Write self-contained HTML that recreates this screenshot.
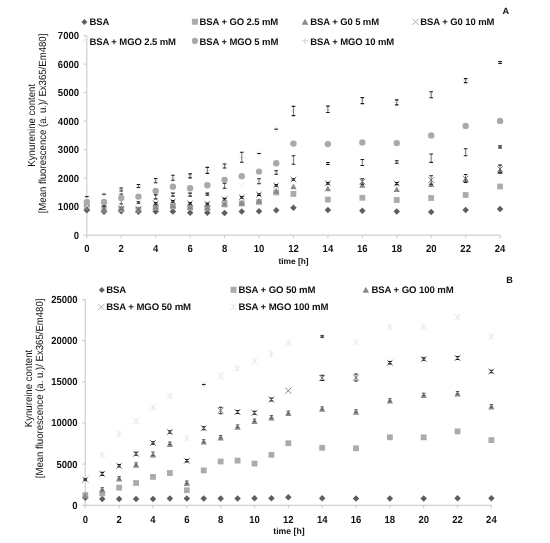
<!DOCTYPE html>
<html><head><meta charset="utf-8"><title>Kynurenine content</title>
<style>
html,body{margin:0;padding:0;background:#fff;}
body{width:550px;height:543px;overflow:hidden;}
svg{display:block;will-change:transform;}
text{font-family:"Liberation Sans", sans-serif;fill:#111;text-rendering:geometricPrecision;}
.tl{font-size:9.5px;font-weight:bold;}
.lg{font-size:9.5px;font-weight:bold;letter-spacing:-0.1px;}
.lg2{font-size:9.6px;font-weight:bold;letter-spacing:-0.1px;}
.xt{font-size:8.4px;font-weight:bold;}
.xt2{font-size:8.7px;font-weight:bold;}
.yt{font-size:9.6px;}
.pl{font-size:9.2px;font-weight:bold;}
</style></head><body>
<svg width="550" height="543" viewBox="0 0 550 543">

<rect width="550" height="543" fill="#fff"/>
<g>
<path d="M86.8 35.7L86.8 235.2L500.08 235.2" stroke="#cfcfcf" stroke-width="1.2" fill="none"/>
<text transform="translate(79 238.9) scale(1 1.08)" text-anchor="end" class="tl">0</text>
<text transform="translate(79 210.4) scale(1 1.08)" text-anchor="end" class="tl">1000</text>
<text transform="translate(79 181.9) scale(1 1.08)" text-anchor="end" class="tl">2000</text>
<text transform="translate(79 153.4) scale(1 1.08)" text-anchor="end" class="tl">3000</text>
<text transform="translate(79 124.9) scale(1 1.08)" text-anchor="end" class="tl">4000</text>
<text transform="translate(79 96.4) scale(1 1.08)" text-anchor="end" class="tl">5000</text>
<text transform="translate(79 67.9) scale(1 1.08)" text-anchor="end" class="tl">6000</text>
<text transform="translate(79 39.4) scale(1 1.08)" text-anchor="end" class="tl">7000</text>
<text transform="translate(86.8 252.3) scale(1 1.08)" text-anchor="middle" class="tl">0</text>
<text transform="translate(121.24 252.3) scale(1 1.08)" text-anchor="middle" class="tl">2</text>
<text transform="translate(155.68 252.3) scale(1 1.08)" text-anchor="middle" class="tl">4</text>
<text transform="translate(190.12 252.3) scale(1 1.08)" text-anchor="middle" class="tl">6</text>
<text transform="translate(224.56 252.3) scale(1 1.08)" text-anchor="middle" class="tl">8</text>
<text transform="translate(259 252.3) scale(1 1.08)" text-anchor="middle" class="tl">10</text>
<text transform="translate(293.44 252.3) scale(1 1.08)" text-anchor="middle" class="tl">12</text>
<text transform="translate(327.88 252.3) scale(1 1.08)" text-anchor="middle" class="tl">14</text>
<text transform="translate(362.32 252.3) scale(1 1.08)" text-anchor="middle" class="tl">16</text>
<text transform="translate(396.76 252.3) scale(1 1.08)" text-anchor="middle" class="tl">18</text>
<text transform="translate(431.2 252.3) scale(1 1.08)" text-anchor="middle" class="tl">20</text>
<text transform="translate(465.64 252.3) scale(1 1.08)" text-anchor="middle" class="tl">22</text>
<text transform="translate(500.08 252.3) scale(1 1.08)" text-anchor="middle" class="tl">24</text>
<path d="M83.6 235.2L86.8 235.2M83.6 206.7L86.8 206.7M83.6 178.2L86.8 178.2M83.6 149.7L86.8 149.7M83.6 121.2L86.8 121.2M83.6 92.7L86.8 92.7M83.6 64.2L86.8 64.2M83.6 35.7L86.8 35.7M86.8 235.2L86.8 238.2M121.24 235.2L121.24 238.2M155.68 235.2L155.68 238.2M190.12 235.2L190.12 238.2M224.56 235.2L224.56 238.2M259 235.2L259 238.2M293.44 235.2L293.44 238.2M327.88 235.2L327.88 238.2M362.32 235.2L362.32 238.2M396.76 235.2L396.76 238.2M431.2 235.2L431.2 238.2M465.64 235.2L465.64 238.2M500.08 235.2L500.08 238.2" stroke="#cfcfcf" stroke-width="1.2" fill="none"/>
<path d="M86.8 207.05L90.05 210.3L86.8 213.55L83.55 210.3Z" fill="#5e5e5e"/>
<rect x="83.9" y="204.1" width="5.8" height="5.8" fill="#ababab"/>
<path d="M86.8 204.35L89.95 210.02L83.65 210.02Z" fill="#8a8a8a"/>
<path d="M84 205.2L89.6 210.8M89.6 205.2L84 210.8" stroke="#6a6a6a" stroke-width="0.9" fill="none"/>
<path d="M84 202.7L89.6 208.3M89.6 202.7L84 208.3" stroke="#ececec" stroke-width="0.9" fill="none"/>
<circle cx="86.8" cy="201.9" r="3.2" fill="#a9a9a9"/>
<path d="M83.8 196.6L89.8 196.6M86.8 193.6L86.8 199.6" stroke="#e2e2e2" stroke-width="0.9" fill="none"/>
<path d="M85 196.6L88.6 196.6" stroke="#1a1a1a" stroke-width="1.1" fill="none"/>
<path d="M104.02 208.55L107.27 211.8L104.02 215.05L100.77 211.8Z" fill="#5e5e5e"/>
<rect x="101.12" y="206.6" width="5.8" height="5.8" fill="#ababab"/>
<path d="M104.02 206.35L107.17 212.02L100.87 212.02Z" fill="#8a8a8a"/>
<path d="M101.22 206.2L106.82 211.8M106.82 206.2L101.22 211.8" stroke="#6a6a6a" stroke-width="0.9" fill="none"/>
<path d="M101.22 203.2L106.82 208.8M106.82 203.2L101.22 208.8" stroke="#ececec" stroke-width="0.9" fill="none"/>
<path d="M104.02 205.2L104.02 206.8" stroke="#444" stroke-width="0.7" fill="none"/><path d="M102.22 205.2L105.82 205.2M102.22 206.8L105.82 206.8" stroke="#1a1a1a" stroke-width="1.1" fill="none"/>
<circle cx="104.02" cy="201.9" r="3.2" fill="#a9a9a9"/>
<path d="M101.02 194.2L107.02 194.2M104.02 191.2L104.02 197.2" stroke="#e2e2e2" stroke-width="0.9" fill="none"/>
<path d="M102.22 194.2L105.82 194.2" stroke="#1a1a1a" stroke-width="1.1" fill="none"/>
<path d="M121.24 208.05L124.49 211.3L121.24 214.55L117.99 211.3Z" fill="#5e5e5e"/>
<rect x="118.34" y="206.1" width="5.8" height="5.8" fill="#ababab"/>
<path d="M121.24 205.35L124.39 211.02L118.09 211.02Z" fill="#8a8a8a"/>
<path d="M118.44 205.7L124.04 211.3M124.04 205.7L118.44 211.3" stroke="#6a6a6a" stroke-width="0.9" fill="none"/>
<path d="M118.44 196.2L124.04 201.8M124.04 196.2L118.44 201.8" stroke="#ececec" stroke-width="0.9" fill="none"/>
<path d="M121.24 194L121.24 204" stroke="#444" stroke-width="0.7" fill="none"/><path d="M119.44 194L123.04 194M119.44 204L123.04 204" stroke="#1a1a1a" stroke-width="1.1" fill="none"/>
<circle cx="121.24" cy="198" r="3.2" fill="#a9a9a9"/>
<path d="M118.24 189.5L124.24 189.5M121.24 186.5L121.24 192.5" stroke="#e2e2e2" stroke-width="0.9" fill="none"/>
<path d="M121.24 188L121.24 191" stroke="#444" stroke-width="0.7" fill="none"/><path d="M119.44 188L123.04 188M119.44 191L123.04 191" stroke="#1a1a1a" stroke-width="1.1" fill="none"/>
<path d="M138.46 208.55L141.71 211.8L138.46 215.05L135.21 211.8Z" fill="#5e5e5e"/>
<rect x="135.56" y="206.6" width="5.8" height="5.8" fill="#ababab"/>
<path d="M138.46 206.35L141.61 212.02L135.31 212.02Z" fill="#8a8a8a"/>
<path d="M135.66 206.7L141.26 212.3M141.26 206.7L135.66 212.3" stroke="#6a6a6a" stroke-width="0.9" fill="none"/>
<path d="M135.66 199.7L141.26 205.3M141.26 199.7L135.66 205.3" stroke="#ececec" stroke-width="0.9" fill="none"/>
<path d="M138.46 201.7L138.46 203.3" stroke="#444" stroke-width="0.7" fill="none"/><path d="M136.66 201.7L140.26 201.7M136.66 203.3L140.26 203.3" stroke="#1a1a1a" stroke-width="1.1" fill="none"/>
<circle cx="138.46" cy="196.6" r="3.2" fill="#a9a9a9"/>
<path d="M135.46 186L141.46 186M138.46 183L138.46 189" stroke="#e2e2e2" stroke-width="0.9" fill="none"/>
<path d="M138.46 184.5L138.46 187.5" stroke="#444" stroke-width="0.7" fill="none"/><path d="M136.66 184.5L140.26 184.5M136.66 187.5L140.26 187.5" stroke="#1a1a1a" stroke-width="1.1" fill="none"/>
<path d="M155.68 208.25L158.93 211.5L155.68 214.75L152.43 211.5Z" fill="#5e5e5e"/>
<rect x="152.78" y="204.6" width="5.8" height="5.8" fill="#ababab"/>
<path d="M155.68 203.85L158.83 209.52L152.53 209.52Z" fill="#8a8a8a"/>
<path d="M152.88 200.5L158.48 206.1M158.48 200.5L152.88 206.1" stroke="#6a6a6a" stroke-width="0.9" fill="none"/>
<path d="M155.68 202.5L155.68 204.1" stroke="#444" stroke-width="0.7" fill="none"/><path d="M153.88 202.5L157.48 202.5M153.88 204.1L157.48 204.1" stroke="#1a1a1a" stroke-width="1.1" fill="none"/>
<path d="M152.88 194.1L158.48 199.7M158.48 194.1L152.88 199.7" stroke="#ececec" stroke-width="0.9" fill="none"/>
<path d="M155.68 194.9L155.68 198.9" stroke="#444" stroke-width="0.7" fill="none"/><path d="M153.88 194.9L157.48 194.9M153.88 198.9L157.48 198.9" stroke="#1a1a1a" stroke-width="1.1" fill="none"/>
<circle cx="155.68" cy="190.9" r="3.2" fill="#a9a9a9"/>
<path d="M152.68 180.6L158.68 180.6M155.68 177.6L155.68 183.6" stroke="#e2e2e2" stroke-width="0.9" fill="none"/>
<path d="M155.68 178.5L155.68 182.7" stroke="#444" stroke-width="0.7" fill="none"/><path d="M153.88 178.5L157.48 178.5M153.88 182.7L157.48 182.7" stroke="#1a1a1a" stroke-width="1.1" fill="none"/>
<path d="M172.9 208.25L176.15 211.5L172.9 214.75L169.65 211.5Z" fill="#5e5e5e"/>
<rect x="170" y="203.6" width="5.8" height="5.8" fill="#ababab"/>
<path d="M172.9 202.65L176.05 208.32L169.75 208.32Z" fill="#8a8a8a"/>
<path d="M170.1 198.6L175.7 204.2M175.7 198.6L170.1 204.2" stroke="#6a6a6a" stroke-width="0.9" fill="none"/>
<path d="M172.9 200.6L172.9 202.2" stroke="#444" stroke-width="0.7" fill="none"/><path d="M171.1 200.6L174.7 200.6M171.1 202.2L174.7 202.2" stroke="#1a1a1a" stroke-width="1.1" fill="none"/>
<path d="M170.1 191.8L175.7 197.4M175.7 191.8L170.1 197.4" stroke="#ececec" stroke-width="0.9" fill="none"/>
<path d="M172.9 193.1L172.9 196.1" stroke="#444" stroke-width="0.7" fill="none"/><path d="M171.1 193.1L174.7 193.1M171.1 196.1L174.7 196.1" stroke="#1a1a1a" stroke-width="1.1" fill="none"/>
<circle cx="172.9" cy="186.7" r="3.2" fill="#a9a9a9"/>
<path d="M169.9 177.8L175.9 177.8M172.9 174.8L172.9 180.8" stroke="#e2e2e2" stroke-width="0.9" fill="none"/>
<path d="M172.9 175.3L172.9 180.3" stroke="#444" stroke-width="0.7" fill="none"/><path d="M171.1 175.3L174.7 175.3M171.1 180.3L174.7 180.3" stroke="#1a1a1a" stroke-width="1.1" fill="none"/>
<path d="M190.12 209.55L193.37 212.8L190.12 216.05L186.87 212.8Z" fill="#5e5e5e"/>
<rect x="187.22" y="204.6" width="5.8" height="5.8" fill="#ababab"/>
<path d="M190.12 203.95L193.27 209.62L186.97 209.62Z" fill="#8a8a8a"/>
<path d="M187.32 200.5L192.92 206.1M192.92 200.5L187.32 206.1" stroke="#6a6a6a" stroke-width="0.9" fill="none"/>
<path d="M190.12 202.5L190.12 204.1" stroke="#444" stroke-width="0.7" fill="none"/><path d="M188.32 202.5L191.92 202.5M188.32 204.1L191.92 204.1" stroke="#1a1a1a" stroke-width="1.1" fill="none"/>
<path d="M187.32 191.8L192.92 197.4M192.92 191.8L187.32 197.4" stroke="#ececec" stroke-width="0.9" fill="none"/>
<path d="M190.12 193.1L190.12 196.1" stroke="#444" stroke-width="0.7" fill="none"/><path d="M188.32 193.1L191.92 193.1M188.32 196.1L191.92 196.1" stroke="#1a1a1a" stroke-width="1.1" fill="none"/>
<circle cx="190.12" cy="188.3" r="3.2" fill="#a9a9a9"/>
<path d="M187.12 175.9L193.12 175.9M190.12 172.9L190.12 178.9" stroke="#e2e2e2" stroke-width="0.9" fill="none"/>
<path d="M190.12 173.9L190.12 177.9" stroke="#444" stroke-width="0.7" fill="none"/><path d="M188.32 173.9L191.92 173.9M188.32 177.9L191.92 177.9" stroke="#1a1a1a" stroke-width="1.1" fill="none"/>
<path d="M207.34 209.55L210.59 212.8L207.34 216.05L204.09 212.8Z" fill="#5e5e5e"/>
<rect x="204.44" y="205.1" width="5.8" height="5.8" fill="#ababab"/>
<path d="M207.34 204.55L210.49 210.22L204.19 210.22Z" fill="#8a8a8a"/>
<path d="M204.54 201.1L210.14 206.7M210.14 201.1L204.54 206.7" stroke="#6a6a6a" stroke-width="0.9" fill="none"/>
<path d="M207.34 203.1L207.34 204.7" stroke="#444" stroke-width="0.7" fill="none"/><path d="M205.54 203.1L209.14 203.1M205.54 204.7L209.14 204.7" stroke="#1a1a1a" stroke-width="1.1" fill="none"/>
<path d="M204.54 191.3L210.14 196.9M210.14 191.3L204.54 196.9" stroke="#ececec" stroke-width="0.9" fill="none"/>
<path d="M207.34 193.1L207.34 195.1" stroke="#444" stroke-width="0.7" fill="none"/><path d="M205.54 193.1L209.14 193.1M205.54 195.1L209.14 195.1" stroke="#1a1a1a" stroke-width="1.1" fill="none"/>
<circle cx="207.34" cy="185.2" r="3.2" fill="#a9a9a9"/>
<path d="M204.34 170.4L210.34 170.4M207.34 167.4L207.34 173.4" stroke="#e2e2e2" stroke-width="0.9" fill="none"/>
<path d="M207.34 167.4L207.34 173.4" stroke="#444" stroke-width="0.7" fill="none"/><path d="M205.54 167.4L209.14 167.4M205.54 173.4L209.14 173.4" stroke="#1a1a1a" stroke-width="1.1" fill="none"/>
<path d="M224.56 209.75L227.81 213L224.56 216.25L221.31 213Z" fill="#5e5e5e"/>
<rect x="221.66" y="201.6" width="5.8" height="5.8" fill="#ababab"/>
<path d="M224.56 200.65L227.71 206.32L221.41 206.32Z" fill="#8a8a8a"/>
<path d="M221.76 196.4L227.36 202M227.36 196.4L221.76 202" stroke="#6a6a6a" stroke-width="0.9" fill="none"/>
<path d="M224.56 198.4L224.56 200" stroke="#444" stroke-width="0.7" fill="none"/><path d="M222.76 198.4L226.36 198.4M222.76 200L226.36 200" stroke="#1a1a1a" stroke-width="1.1" fill="none"/>
<path d="M221.76 182.9L227.36 188.5M227.36 182.9L221.76 188.5" stroke="#ececec" stroke-width="0.9" fill="none"/>
<path d="M224.56 183.2L224.56 188.2" stroke="#444" stroke-width="0.7" fill="none"/><path d="M222.76 183.2L226.36 183.2M222.76 188.2L226.36 188.2" stroke="#1a1a1a" stroke-width="1.1" fill="none"/>
<circle cx="224.56" cy="179.9" r="3.2" fill="#a9a9a9"/>
<path d="M221.56 166L227.56 166M224.56 163L224.56 169" stroke="#e2e2e2" stroke-width="0.9" fill="none"/>
<path d="M224.56 164L224.56 168" stroke="#444" stroke-width="0.7" fill="none"/><path d="M222.76 164L226.36 164M222.76 168L226.36 168" stroke="#1a1a1a" stroke-width="1.1" fill="none"/>
<path d="M241.78 208.25L245.03 211.5L241.78 214.75L238.53 211.5Z" fill="#5e5e5e"/>
<rect x="238.88" y="200.6" width="5.8" height="5.8" fill="#ababab"/>
<path d="M241.78 199.75L244.93 205.42L238.63 205.42Z" fill="#8a8a8a"/>
<path d="M238.98 194.5L244.58 200.1M244.58 194.5L238.98 200.1" stroke="#6a6a6a" stroke-width="0.9" fill="none"/>
<path d="M241.78 196.5L241.78 198.1" stroke="#444" stroke-width="0.7" fill="none"/><path d="M239.98 196.5L243.58 196.5M239.98 198.1L243.58 198.1" stroke="#1a1a1a" stroke-width="1.1" fill="none"/>
<path d="M238.98 182.6L244.58 188.2M244.58 182.6L238.98 188.2" stroke="#ececec" stroke-width="0.9" fill="none"/>
<circle cx="241.78" cy="176.2" r="3.2" fill="#a9a9a9"/>
<path d="M238.78 157.3L244.78 157.3M241.78 154.3L241.78 160.3" stroke="#e2e2e2" stroke-width="0.9" fill="none"/>
<path d="M241.78 152.3L241.78 162.3" stroke="#444" stroke-width="0.7" fill="none"/><path d="M239.98 152.3L243.58 152.3M239.98 162.3L243.58 162.3" stroke="#1a1a1a" stroke-width="1.1" fill="none"/>
<path d="M259 207.95L262.25 211.2L259 214.45L255.75 211.2Z" fill="#5e5e5e"/>
<rect x="256.1" y="199.1" width="5.8" height="5.8" fill="#ababab"/>
<path d="M259 197.85L262.15 203.52L255.85 203.52Z" fill="#8a8a8a"/>
<path d="M256.2 191.8L261.8 197.4M261.8 191.8L256.2 197.4" stroke="#6a6a6a" stroke-width="0.9" fill="none"/>
<path d="M259 193.8L259 195.4" stroke="#444" stroke-width="0.7" fill="none"/><path d="M257.2 193.8L260.8 193.8M257.2 195.4L260.8 195.4" stroke="#1a1a1a" stroke-width="1.1" fill="none"/>
<path d="M256.2 178.5L261.8 184.1M261.8 178.5L256.2 184.1" stroke="#ececec" stroke-width="0.9" fill="none"/>
<path d="M259 178.8L259 183.8" stroke="#444" stroke-width="0.7" fill="none"/><path d="M257.2 178.8L260.8 178.8M257.2 183.8L260.8 183.8" stroke="#1a1a1a" stroke-width="1.1" fill="none"/>
<circle cx="259" cy="171.6" r="3.2" fill="#a9a9a9"/>
<path d="M256 153.5L262 153.5M259 150.5L259 156.5" stroke="#e2e2e2" stroke-width="0.9" fill="none"/>
<path d="M257.2 153.5L260.8 153.5" stroke="#1a1a1a" stroke-width="1.1" fill="none"/>
<path d="M276.22 206.95L279.47 210.2L276.22 213.45L272.97 210.2Z" fill="#5e5e5e"/>
<rect x="273.32" y="189.6" width="5.8" height="5.8" fill="#ababab"/>
<path d="M276.22 187.75L279.37 193.42L273.07 193.42Z" fill="#8a8a8a"/>
<path d="M273.42 182.6L279.02 188.2M279.02 182.6L273.42 188.2" stroke="#6a6a6a" stroke-width="0.9" fill="none"/>
<path d="M276.22 184.6L276.22 186.2" stroke="#444" stroke-width="0.7" fill="none"/><path d="M274.42 184.6L278.02 184.6M274.42 186.2L278.02 186.2" stroke="#1a1a1a" stroke-width="1.1" fill="none"/>
<path d="M273.42 169.7L279.02 175.3M279.02 169.7L273.42 175.3" stroke="#ececec" stroke-width="0.9" fill="none"/>
<path d="M276.22 170.7L276.22 174.3" stroke="#444" stroke-width="0.7" fill="none"/><path d="M274.42 170.7L278.02 170.7M274.42 174.3L278.02 174.3" stroke="#1a1a1a" stroke-width="1.1" fill="none"/>
<circle cx="276.22" cy="163.3" r="3.2" fill="#a9a9a9"/>
<path d="M273.22 129.2L279.22 129.2M276.22 126.2L276.22 132.2" stroke="#e2e2e2" stroke-width="0.9" fill="none"/>
<path d="M274.42 129.2L278.02 129.2" stroke="#1a1a1a" stroke-width="1.1" fill="none"/>
<path d="M293.44 204.55L296.69 207.8L293.44 211.05L290.19 207.8Z" fill="#5e5e5e"/>
<rect x="290.54" y="191" width="5.8" height="5.8" fill="#ababab"/>
<path d="M293.44 183.55L296.59 189.22L290.29 189.22Z" fill="#8a8a8a"/>
<path d="M290.64 176.7L296.24 182.3M296.24 176.7L290.64 182.3" stroke="#6a6a6a" stroke-width="0.9" fill="none"/>
<path d="M293.44 178.7L293.44 180.3" stroke="#444" stroke-width="0.7" fill="none"/><path d="M291.64 178.7L295.24 178.7M291.64 180.3L295.24 180.3" stroke="#1a1a1a" stroke-width="1.1" fill="none"/>
<path d="M290.64 157.2L296.24 162.8M296.24 157.2L290.64 162.8" stroke="#ececec" stroke-width="0.9" fill="none"/>
<path d="M293.44 155.7L293.44 164.3" stroke="#444" stroke-width="0.7" fill="none"/><path d="M291.64 155.7L295.24 155.7M291.64 164.3L295.24 164.3" stroke="#1a1a1a" stroke-width="1.1" fill="none"/>
<circle cx="293.44" cy="143.6" r="3.2" fill="#a9a9a9"/>
<path d="M290.44 111L296.44 111M293.44 108L293.44 114" stroke="#e2e2e2" stroke-width="0.9" fill="none"/>
<path d="M293.44 106.4L293.44 115.6" stroke="#444" stroke-width="0.7" fill="none"/><path d="M291.64 106.4L295.24 106.4M291.64 115.6L295.24 115.6" stroke="#1a1a1a" stroke-width="1.1" fill="none"/>
<path d="M327.88 206.65L331.13 209.9L327.88 213.15L324.63 209.9Z" fill="#5e5e5e"/>
<rect x="324.98" y="196.7" width="5.8" height="5.8" fill="#ababab"/>
<path d="M327.88 185.55L331.03 191.22L324.73 191.22Z" fill="#8a8a8a"/>
<path d="M325.08 180.5L330.68 186.1M330.68 180.5L325.08 186.1" stroke="#6a6a6a" stroke-width="0.9" fill="none"/>
<path d="M327.88 182.5L327.88 184.1" stroke="#444" stroke-width="0.7" fill="none"/><path d="M326.08 182.5L329.68 182.5M326.08 184.1L329.68 184.1" stroke="#1a1a1a" stroke-width="1.1" fill="none"/>
<path d="M325.08 160.7L330.68 166.3M330.68 160.7L325.08 166.3" stroke="#ececec" stroke-width="0.9" fill="none"/>
<path d="M327.88 162.5L327.88 164.5" stroke="#444" stroke-width="0.7" fill="none"/><path d="M326.08 162.5L329.68 162.5M326.08 164.5L329.68 164.5" stroke="#1a1a1a" stroke-width="1.1" fill="none"/>
<circle cx="327.88" cy="144.1" r="3.2" fill="#a9a9a9"/>
<path d="M324.88 109.3L330.88 109.3M327.88 106.3L327.88 112.3" stroke="#e2e2e2" stroke-width="0.9" fill="none"/>
<path d="M327.88 106.1L327.88 112.5" stroke="#444" stroke-width="0.7" fill="none"/><path d="M326.08 106.1L329.68 106.1M326.08 112.5L329.68 112.5" stroke="#1a1a1a" stroke-width="1.1" fill="none"/>
<path d="M362.32 207.45L365.57 210.7L362.32 213.95L359.07 210.7Z" fill="#5e5e5e"/>
<rect x="359.42" y="194.9" width="5.8" height="5.8" fill="#ababab"/>
<path d="M362.32 182.05L365.47 187.72L359.17 187.72Z" fill="#8a8a8a"/>
<path d="M359.52 178.7L365.12 184.3M365.12 178.7L359.52 184.3" stroke="#6a6a6a" stroke-width="0.9" fill="none"/>
<path d="M362.32 178.8L362.32 184.2" stroke="#444" stroke-width="0.7" fill="none"/><path d="M360.52 178.8L364.12 178.8M360.52 184.2L364.12 184.2" stroke="#1a1a1a" stroke-width="1.1" fill="none"/>
<path d="M359.52 159.7L365.12 165.3M365.12 159.7L359.52 165.3" stroke="#ececec" stroke-width="0.9" fill="none"/>
<path d="M362.32 159.5L362.32 165.5" stroke="#444" stroke-width="0.7" fill="none"/><path d="M360.52 159.5L364.12 159.5M360.52 165.5L364.12 165.5" stroke="#1a1a1a" stroke-width="1.1" fill="none"/>
<circle cx="362.32" cy="142.4" r="3.2" fill="#a9a9a9"/>
<path d="M359.32 100.6L365.32 100.6M362.32 97.6L362.32 103.6" stroke="#e2e2e2" stroke-width="0.9" fill="none"/>
<path d="M362.32 97.6L362.32 103.6" stroke="#444" stroke-width="0.7" fill="none"/><path d="M360.52 97.6L364.12 97.6M360.52 103.6L364.12 103.6" stroke="#1a1a1a" stroke-width="1.1" fill="none"/>
<path d="M396.76 208.15L400.01 211.4L396.76 214.65L393.51 211.4Z" fill="#5e5e5e"/>
<rect x="393.86" y="197.1" width="5.8" height="5.8" fill="#ababab"/>
<path d="M396.76 186.35L399.91 192.02L393.61 192.02Z" fill="#8a8a8a"/>
<path d="M393.96 180.8L399.56 186.4M399.56 180.8L393.96 186.4" stroke="#6a6a6a" stroke-width="0.9" fill="none"/>
<path d="M396.76 182.6L396.76 184.6" stroke="#444" stroke-width="0.7" fill="none"/><path d="M394.96 182.6L398.56 182.6M394.96 184.6L398.56 184.6" stroke="#1a1a1a" stroke-width="1.1" fill="none"/>
<path d="M393.96 159.2L399.56 164.8M399.56 159.2L393.96 164.8" stroke="#ececec" stroke-width="0.9" fill="none"/>
<path d="M396.76 160.8L396.76 163.2" stroke="#444" stroke-width="0.7" fill="none"/><path d="M394.96 160.8L398.56 160.8M394.96 163.2L398.56 163.2" stroke="#1a1a1a" stroke-width="1.1" fill="none"/>
<circle cx="396.76" cy="143.1" r="3.2" fill="#a9a9a9"/>
<path d="M393.76 102.4L399.76 102.4M396.76 99.4L396.76 105.4" stroke="#e2e2e2" stroke-width="0.9" fill="none"/>
<path d="M396.76 99.9L396.76 104.9" stroke="#444" stroke-width="0.7" fill="none"/><path d="M394.96 99.9L398.56 99.9M394.96 104.9L398.56 104.9" stroke="#1a1a1a" stroke-width="1.1" fill="none"/>
<path d="M431.2 208.75L434.45 212L431.2 215.25L427.95 212Z" fill="#5e5e5e"/>
<rect x="428.3" y="195.1" width="5.8" height="5.8" fill="#ababab"/>
<path d="M431.2 181.25L434.35 186.92L428.05 186.92Z" fill="#8a8a8a"/>
<path d="M428.4 177.2L434 182.8M434 177.2L428.4 182.8" stroke="#6a6a6a" stroke-width="0.9" fill="none"/>
<path d="M431.2 175.8L431.2 184.2" stroke="#444" stroke-width="0.7" fill="none"/><path d="M429.4 175.8L433 175.8M429.4 184.2L433 184.2" stroke="#1a1a1a" stroke-width="1.1" fill="none"/>
<path d="M428.4 155.4L434 161M434 155.4L428.4 161" stroke="#ececec" stroke-width="0.9" fill="none"/>
<path d="M431.2 154L431.2 162.4" stroke="#444" stroke-width="0.7" fill="none"/><path d="M429.4 154L433 154M429.4 162.4L433 162.4" stroke="#1a1a1a" stroke-width="1.1" fill="none"/>
<circle cx="431.2" cy="135.4" r="3.2" fill="#a9a9a9"/>
<path d="M428.2 94.7L434.2 94.7M431.2 91.7L431.2 97.7" stroke="#e2e2e2" stroke-width="0.9" fill="none"/>
<path d="M431.2 91.7L431.2 97.7" stroke="#444" stroke-width="0.7" fill="none"/><path d="M429.4 91.7L433 91.7M429.4 97.7L433 97.7" stroke="#1a1a1a" stroke-width="1.1" fill="none"/>
<path d="M465.64 206.75L468.89 210L465.64 213.25L462.39 210Z" fill="#5e5e5e"/>
<rect x="462.74" y="192.1" width="5.8" height="5.8" fill="#ababab"/>
<path d="M465.64 176.55L468.79 182.22L462.49 182.22Z" fill="#8a8a8a"/>
<path d="M462.84 175.7L468.44 181.3M468.44 175.7L462.84 181.3" stroke="#6a6a6a" stroke-width="0.9" fill="none"/>
<path d="M465.64 174.5L465.64 182.5" stroke="#444" stroke-width="0.7" fill="none"/><path d="M463.84 174.5L467.44 174.5M463.84 182.5L467.44 182.5" stroke="#1a1a1a" stroke-width="1.1" fill="none"/>
<path d="M462.84 149.4L468.44 155M468.44 149.4L462.84 155" stroke="#ececec" stroke-width="0.9" fill="none"/>
<path d="M465.64 148.7L465.64 155.7" stroke="#444" stroke-width="0.7" fill="none"/><path d="M463.84 148.7L467.44 148.7M463.84 155.7L467.44 155.7" stroke="#1a1a1a" stroke-width="1.1" fill="none"/>
<circle cx="465.64" cy="125.9" r="3.2" fill="#a9a9a9"/>
<path d="M462.64 80.6L468.64 80.6M465.64 77.6L465.64 83.6" stroke="#e2e2e2" stroke-width="0.9" fill="none"/>
<path d="M465.64 78.6L465.64 82.6" stroke="#444" stroke-width="0.7" fill="none"/><path d="M463.84 78.6L467.44 78.6M463.84 82.6L467.44 82.6" stroke="#1a1a1a" stroke-width="1.1" fill="none"/>
<path d="M500.08 205.75L503.33 209L500.08 212.25L496.83 209Z" fill="#5e5e5e"/>
<rect x="497.18" y="183.6" width="5.8" height="5.8" fill="#ababab"/>
<path d="M500.08 168.15L503.23 173.82L496.93 173.82Z" fill="#8a8a8a"/>
<path d="M497.28 166.2L502.88 171.8M502.88 166.2L497.28 171.8" stroke="#6a6a6a" stroke-width="0.9" fill="none"/>
<path d="M500.08 165.1L500.08 172.9" stroke="#444" stroke-width="0.7" fill="none"/><path d="M498.28 165.1L501.88 165.1M498.28 172.9L501.88 172.9" stroke="#1a1a1a" stroke-width="1.1" fill="none"/>
<path d="M497.28 144.1L502.88 149.7M502.88 144.1L497.28 149.7" stroke="#ececec" stroke-width="0.9" fill="none"/>
<path d="M500.08 145.9L500.08 147.9" stroke="#444" stroke-width="0.7" fill="none"/><path d="M498.28 145.9L501.88 145.9M498.28 147.9L501.88 147.9" stroke="#1a1a1a" stroke-width="1.1" fill="none"/>
<circle cx="500.08" cy="120.9" r="3.2" fill="#a9a9a9"/>
<path d="M497.08 62.5L503.08 62.5M500.08 59.5L500.08 65.5" stroke="#e2e2e2" stroke-width="0.9" fill="none"/>
<path d="M500.08 61.5L500.08 63.5" stroke="#444" stroke-width="0.7" fill="none"/><path d="M498.28 61.5L501.88 61.5M498.28 63.5L501.88 63.5" stroke="#1a1a1a" stroke-width="1.1" fill="none"/>
<path d="M84.4 18.9L87.4 21.9L84.4 24.9L81.4 21.9Z" fill="#5e5e5e"/>
<text transform="translate(89.4 24.8)" class="lg">BSA</text>
<rect x="191.9" y="18.75" width="6" height="6" fill="#ababab"/>
<text transform="translate(199.5 24.8)" class="lg">BSA + GO 2.5 mM</text>
<path d="M305 18.8L308.3 24.7L301.7 24.7Z" fill="#8a8a8a"/>
<text transform="translate(310.2 24.8)" class="lg">BSA + G0 5 mM</text>
<path d="M412.3 18.5L418.7 24.9M418.7 18.5L412.3 24.9" stroke="#9a9a9a" stroke-width="0.8" fill="none"/>
<text transform="translate(420.3 24.8)" class="lg">BSA + G0 10 mM</text>
<path d="M84.2 38.2L87 41L84.2 43.8L81.4 41Z" fill="#f4f4f4"/>
<text transform="translate(89.4 44.6)" class="lg">BSA + MGO 2.5 mM</text>
<circle cx="194.9" cy="40.9" r="3.1" fill="#a9a9a9"/>
<text transform="translate(199.5 44.6)" class="lg">BSA + MGO 5 mM</text>
<path d="M302 40.8L308 40.8M305 37.8L305 43.8" stroke="#d4d4d4" stroke-width="1.1" fill="none"/>
<text transform="translate(310.2 44.6)" class="lg">BSA + MGO 10 mM</text>
<text transform="translate(502.6 13.6)" class="pl">A</text>
<text transform="translate(293.5 263.7) scale(1 1)" text-anchor="middle" class="xt">time [h]</text>
<text transform="translate(35.1 125.3) rotate(-90) scale(1 1.08)" text-anchor="middle" class="yt">Kynurenine content</text>
<text transform="translate(46.3 123.5) rotate(-90) scale(1 1.08)" text-anchor="middle" class="yt">[Mean fluorescence (a. u.)/ Ex365/Em480]</text>
<path d="M85.3 299.55L85.3 505.3L491.38 505.3" stroke="#cfcfcf" stroke-width="1.2" fill="none"/>
<text transform="translate(77.6 508.7) scale(1 1.08)" text-anchor="end" class="tl">0</text>
<text transform="translate(77.6 467.55) scale(1 1.08)" text-anchor="end" class="tl">5000</text>
<text transform="translate(77.6 426.4) scale(1 1.08)" text-anchor="end" class="tl">10000</text>
<text transform="translate(77.6 385.25) scale(1 1.08)" text-anchor="end" class="tl">15000</text>
<text transform="translate(77.6 344.1) scale(1 1.08)" text-anchor="end" class="tl">20000</text>
<text transform="translate(77.6 302.95) scale(1 1.08)" text-anchor="end" class="tl">25000</text>
<text transform="translate(85.3 523) scale(1 1.08)" text-anchor="middle" class="tl">0</text>
<text transform="translate(119.14 523) scale(1 1.08)" text-anchor="middle" class="tl">2</text>
<text transform="translate(152.98 523) scale(1 1.08)" text-anchor="middle" class="tl">4</text>
<text transform="translate(186.82 523) scale(1 1.08)" text-anchor="middle" class="tl">6</text>
<text transform="translate(220.66 523) scale(1 1.08)" text-anchor="middle" class="tl">8</text>
<text transform="translate(254.5 523) scale(1 1.08)" text-anchor="middle" class="tl">10</text>
<text transform="translate(288.34 523) scale(1 1.08)" text-anchor="middle" class="tl">12</text>
<text transform="translate(322.18 523) scale(1 1.08)" text-anchor="middle" class="tl">14</text>
<text transform="translate(356.02 523) scale(1 1.08)" text-anchor="middle" class="tl">16</text>
<text transform="translate(389.86 523) scale(1 1.08)" text-anchor="middle" class="tl">18</text>
<text transform="translate(423.7 523) scale(1 1.08)" text-anchor="middle" class="tl">20</text>
<text transform="translate(457.54 523) scale(1 1.08)" text-anchor="middle" class="tl">22</text>
<text transform="translate(491.38 523) scale(1 1.08)" text-anchor="middle" class="tl">24</text>
<path d="M82.1 505.3L85.3 505.3M82.1 464.15L85.3 464.15M82.1 423L85.3 423M82.1 381.85L85.3 381.85M82.1 340.7L85.3 340.7M82.1 299.55L85.3 299.55M85.3 505.3L85.3 508.3M119.14 505.3L119.14 508.3M152.98 505.3L152.98 508.3M186.82 505.3L186.82 508.3M220.66 505.3L220.66 508.3M254.5 505.3L254.5 508.3M288.34 505.3L288.34 508.3M322.18 505.3L322.18 508.3M356.02 505.3L356.02 508.3M389.86 505.3L389.86 508.3M423.7 505.3L423.7 508.3M457.54 505.3L457.54 508.3M491.38 505.3L491.38 508.3" stroke="#cfcfcf" stroke-width="1.2" fill="none"/>
<path d="M85.3 494.55L88.55 497.8L85.3 501.05L82.05 497.8Z" fill="#5e5e5e"/>
<rect x="82.4" y="492.2" width="5.8" height="5.8" fill="#ababab"/>
<path d="M85.3 492.85L88.45 498.52L82.15 498.52Z" fill="#8a8a8a"/>
<path d="M82.3 476.6L88.3 482.6M88.3 476.6L82.3 482.6" stroke="#777" stroke-width="0.9" fill="none"/>
<path d="M85.3 478.9L85.3 480.3" stroke="#444" stroke-width="0.7" fill="none"/><path d="M83.5 478.9L87.1 478.9M83.5 480.3L87.1 480.3" stroke="#1a1a1a" stroke-width="1.1" fill="none"/>
<path d="M102.22 495.75L105.47 499L102.22 502.25L98.97 499Z" fill="#5e5e5e"/>
<rect x="99.32" y="490.6" width="5.8" height="5.8" fill="#ababab"/>
<path d="M102.22 486.95L105.37 492.62L99.07 492.62Z" fill="#8a8a8a"/>
<path d="M102.22 487.7L102.22 490.1" stroke="#777" stroke-width="0.6" fill="none"/><path d="M100.52 487.7L103.92 487.7M100.52 490.1L103.92 490.1" stroke="#555" stroke-width="1.0" fill="none"/>
<path d="M99.22 470.9L105.22 476.9M105.22 470.9L99.22 476.9" stroke="#777" stroke-width="0.9" fill="none"/>
<path d="M102.22 472.4L102.22 475.4" stroke="#444" stroke-width="0.7" fill="none"/><path d="M100.42 472.4L104.02 472.4M100.42 475.4L104.02 475.4" stroke="#1a1a1a" stroke-width="1.1" fill="none"/>
<path d="M99.02 451.8L105.42 458.2M105.42 451.8L99.02 458.2M102.22 451.8L102.22 458.2" stroke="#e6e6e6" stroke-width="0.9" fill="none"/>
<path d="M119.14 495.75L122.39 499L119.14 502.25L115.89 499Z" fill="#5e5e5e"/>
<rect x="116.24" y="484.8" width="5.8" height="5.8" fill="#ababab"/>
<path d="M119.14 475.85L122.29 481.52L115.99 481.52Z" fill="#8a8a8a"/>
<path d="M119.14 476.6L119.14 479" stroke="#777" stroke-width="0.6" fill="none"/><path d="M117.44 476.6L120.84 476.6M117.44 479L120.84 479" stroke="#555" stroke-width="1.0" fill="none"/>
<path d="M116.14 462.8L122.14 468.8M122.14 462.8L116.14 468.8" stroke="#777" stroke-width="0.9" fill="none"/>
<path d="M119.14 464.6L119.14 467" stroke="#444" stroke-width="0.7" fill="none"/><path d="M117.34 464.6L120.94 464.6M117.34 467L120.94 467" stroke="#1a1a1a" stroke-width="1.1" fill="none"/>
<path d="M115.94 430.8L122.34 437.2M122.34 430.8L115.94 437.2M119.14 430.8L119.14 437.2" stroke="#e6e6e6" stroke-width="0.9" fill="none"/>
<path d="M136.06 495.75L139.31 499L136.06 502.25L132.81 499Z" fill="#5e5e5e"/>
<rect x="133.16" y="480.1" width="5.8" height="5.8" fill="#ababab"/>
<path d="M136.06 462.05L139.21 467.72L132.91 467.72Z" fill="#8a8a8a"/>
<path d="M136.06 462.8L136.06 465.2" stroke="#777" stroke-width="0.6" fill="none"/><path d="M134.36 462.8L137.76 462.8M134.36 465.2L137.76 465.2" stroke="#555" stroke-width="1.0" fill="none"/>
<path d="M133.06 450.8L139.06 456.8M139.06 450.8L133.06 456.8" stroke="#777" stroke-width="0.9" fill="none"/>
<path d="M136.06 452.3L136.06 455.3" stroke="#444" stroke-width="0.7" fill="none"/><path d="M134.26 452.3L137.86 452.3M134.26 455.3L137.86 455.3" stroke="#1a1a1a" stroke-width="1.1" fill="none"/>
<path d="M132.86 417.7L139.26 424.1M139.26 417.7L132.86 424.1M136.06 417.7L136.06 424.1" stroke="#e6e6e6" stroke-width="0.9" fill="none"/>
<path d="M152.98 495.75L156.23 499L152.98 502.25L149.73 499Z" fill="#5e5e5e"/>
<rect x="150.08" y="474" width="5.8" height="5.8" fill="#ababab"/>
<path d="M152.98 451.85L156.13 457.52L149.83 457.52Z" fill="#8a8a8a"/>
<path d="M152.98 452L152.98 455.6" stroke="#777" stroke-width="0.6" fill="none"/><path d="M151.28 452L154.68 452M151.28 455.6L154.68 455.6" stroke="#555" stroke-width="1.0" fill="none"/>
<path d="M149.98 439.9L155.98 445.9M155.98 439.9L149.98 445.9" stroke="#777" stroke-width="0.9" fill="none"/>
<path d="M152.98 441.7L152.98 444.1" stroke="#444" stroke-width="0.7" fill="none"/><path d="M151.18 441.7L154.78 441.7M151.18 444.1L154.78 444.1" stroke="#1a1a1a" stroke-width="1.1" fill="none"/>
<path d="M149.78 404.5L156.18 410.9M156.18 404.5L149.78 410.9M152.98 404.5L152.98 410.9" stroke="#e6e6e6" stroke-width="0.9" fill="none"/>
<path d="M169.9 495.25L173.15 498.5L169.9 501.75L166.65 498.5Z" fill="#5e5e5e"/>
<rect x="167" y="470.1" width="5.8" height="5.8" fill="#ababab"/>
<path d="M169.9 441.25L173.05 446.92L166.75 446.92Z" fill="#8a8a8a"/>
<path d="M169.9 442L169.9 444.4" stroke="#777" stroke-width="0.6" fill="none"/><path d="M168.2 442L171.6 442M168.2 444.4L171.6 444.4" stroke="#555" stroke-width="1.0" fill="none"/>
<path d="M166.9 429L172.9 435M172.9 429L166.9 435" stroke="#777" stroke-width="0.9" fill="none"/>
<path d="M169.9 430.8L169.9 433.2" stroke="#444" stroke-width="0.7" fill="none"/><path d="M168.1 430.8L171.7 430.8M168.1 433.2L171.7 433.2" stroke="#1a1a1a" stroke-width="1.1" fill="none"/>
<path d="M166.7 392.5L173.1 398.9M173.1 392.5L166.7 398.9M169.9 392.5L169.9 398.9" stroke="#e6e6e6" stroke-width="0.9" fill="none"/>
<path d="M186.82 495.25L190.07 498.5L186.82 501.75L183.57 498.5Z" fill="#5e5e5e"/>
<rect x="183.92" y="487.3" width="5.8" height="5.8" fill="#ababab"/>
<path d="M186.82 480.25L189.97 485.92L183.67 485.92Z" fill="#8a8a8a"/>
<path d="M186.82 481L186.82 483.4" stroke="#777" stroke-width="0.6" fill="none"/><path d="M185.12 481L188.52 481M185.12 483.4L188.52 483.4" stroke="#555" stroke-width="1.0" fill="none"/>
<path d="M183.82 457.7L189.82 463.7M189.82 457.7L183.82 463.7" stroke="#777" stroke-width="0.9" fill="none"/>
<path d="M186.82 459.5L186.82 461.9" stroke="#444" stroke-width="0.7" fill="none"/><path d="M185.02 459.5L188.62 459.5M185.02 461.9L188.62 461.9" stroke="#1a1a1a" stroke-width="1.1" fill="none"/>
<path d="M183.62 435.3L190.02 441.7M190.02 435.3L183.62 441.7M186.82 435.3L186.82 441.7" stroke="#e6e6e6" stroke-width="0.9" fill="none"/>
<path d="M203.74 495.25L206.99 498.5L203.74 501.75L200.49 498.5Z" fill="#5e5e5e"/>
<rect x="200.84" y="467.5" width="5.8" height="5.8" fill="#ababab"/>
<path d="M203.74 438.95L206.89 444.62L200.59 444.62Z" fill="#8a8a8a"/>
<path d="M203.74 439.7L203.74 442.1" stroke="#777" stroke-width="0.6" fill="none"/><path d="M202.04 439.7L205.44 439.7M202.04 442.1L205.44 442.1" stroke="#555" stroke-width="1.0" fill="none"/>
<path d="M200.74 425.2L206.74 431.2M206.74 425.2L200.74 431.2" stroke="#777" stroke-width="0.9" fill="none"/>
<path d="M203.74 426.7L203.74 429.7" stroke="#444" stroke-width="0.7" fill="none"/><path d="M201.94 426.7L205.54 426.7M201.94 429.7L205.54 429.7" stroke="#1a1a1a" stroke-width="1.1" fill="none"/>
<path d="M200.54 381.3L206.94 387.7M206.94 381.3L200.54 387.7M203.74 381.3L203.74 387.7" stroke="#e6e6e6" stroke-width="0.9" fill="none"/>
<path d="M201.94 384.5L205.54 384.5" stroke="#1a1a1a" stroke-width="1.1" fill="none"/>
<path d="M220.66 495.25L223.91 498.5L220.66 501.75L217.41 498.5Z" fill="#5e5e5e"/>
<rect x="217.76" y="458.6" width="5.8" height="5.8" fill="#ababab"/>
<path d="M220.66 434.75L223.81 440.42L217.51 440.42Z" fill="#8a8a8a"/>
<path d="M220.66 435.5L220.66 437.9" stroke="#777" stroke-width="0.6" fill="none"/><path d="M218.96 435.5L222.36 435.5M218.96 437.9L222.36 437.9" stroke="#555" stroke-width="1.0" fill="none"/>
<path d="M217.66 407.5L223.66 413.5M223.66 407.5L217.66 413.5" stroke="#777" stroke-width="0.9" fill="none"/>
<path d="M220.66 407.2L220.66 413.8" stroke="#444" stroke-width="0.7" fill="none"/><path d="M218.86 407.2L222.46 407.2M218.86 413.8L222.46 413.8" stroke="#1a1a1a" stroke-width="1.1" fill="none"/>
<path d="M217.46 372.8L223.86 379.2M223.86 372.8L217.46 379.2M220.66 372.8L220.66 379.2" stroke="#e6e6e6" stroke-width="0.9" fill="none"/>
<path d="M237.58 495.25L240.83 498.5L237.58 501.75L234.33 498.5Z" fill="#5e5e5e"/>
<rect x="234.68" y="457.7" width="5.8" height="5.8" fill="#ababab"/>
<path d="M237.58 424.15L240.73 429.82L234.43 429.82Z" fill="#8a8a8a"/>
<path d="M237.58 424.9L237.58 427.3" stroke="#777" stroke-width="0.6" fill="none"/><path d="M235.88 424.9L239.28 424.9M235.88 427.3L239.28 427.3" stroke="#555" stroke-width="1.0" fill="none"/>
<path d="M234.58 409L240.58 415M240.58 409L234.58 415" stroke="#777" stroke-width="0.9" fill="none"/>
<path d="M237.58 410.5L237.58 413.5" stroke="#444" stroke-width="0.7" fill="none"/><path d="M235.78 410.5L239.38 410.5M235.78 413.5L239.38 413.5" stroke="#1a1a1a" stroke-width="1.1" fill="none"/>
<path d="M234.38 365.1L240.78 371.5M240.78 365.1L234.38 371.5M237.58 365.1L237.58 371.5" stroke="#e6e6e6" stroke-width="0.9" fill="none"/>
<path d="M254.5 495.05L257.75 498.3L254.5 501.55L251.25 498.3Z" fill="#5e5e5e"/>
<rect x="251.6" y="460.7" width="5.8" height="5.8" fill="#ababab"/>
<path d="M254.5 418.35L257.65 424.02L251.35 424.02Z" fill="#8a8a8a"/>
<path d="M254.5 419.1L254.5 421.5" stroke="#777" stroke-width="0.6" fill="none"/><path d="M252.8 419.1L256.2 419.1M252.8 421.5L256.2 421.5" stroke="#555" stroke-width="1.0" fill="none"/>
<path d="M251.5 409.8L257.5 415.8M257.5 409.8L251.5 415.8" stroke="#777" stroke-width="0.9" fill="none"/>
<path d="M254.5 411.3L254.5 414.3" stroke="#444" stroke-width="0.7" fill="none"/><path d="M252.7 411.3L256.3 411.3M252.7 414.3L256.3 414.3" stroke="#1a1a1a" stroke-width="1.1" fill="none"/>
<path d="M251.3 358.1L257.7 364.5M257.7 358.1L251.3 364.5M254.5 358.1L254.5 364.5" stroke="#e6e6e6" stroke-width="0.9" fill="none"/>
<path d="M271.42 495.05L274.67 498.3L271.42 501.55L268.17 498.3Z" fill="#5e5e5e"/>
<rect x="268.52" y="451.9" width="5.8" height="5.8" fill="#ababab"/>
<path d="M271.42 414.85L274.57 420.52L268.27 420.52Z" fill="#8a8a8a"/>
<path d="M271.42 415.6L271.42 418" stroke="#777" stroke-width="0.6" fill="none"/><path d="M269.72 415.6L273.12 415.6M269.72 418L273.12 418" stroke="#555" stroke-width="1.0" fill="none"/>
<path d="M268.42 396.5L274.42 402.5M274.42 396.5L268.42 402.5" stroke="#777" stroke-width="0.9" fill="none"/>
<path d="M271.42 398L271.42 401" stroke="#444" stroke-width="0.7" fill="none"/><path d="M269.62 398L273.22 398M269.62 401L273.22 401" stroke="#1a1a1a" stroke-width="1.1" fill="none"/>
<path d="M268.22 350.8L274.62 357.2M274.62 350.8L268.22 357.2M271.42 350.8L271.42 357.2" stroke="#e6e6e6" stroke-width="0.9" fill="none"/>
<path d="M288.34 493.95L291.59 497.2L288.34 500.45L285.09 497.2Z" fill="#5e5e5e"/>
<rect x="285.44" y="440.3" width="5.8" height="5.8" fill="#ababab"/>
<path d="M288.34 410.35L291.49 416.02L285.19 416.02Z" fill="#8a8a8a"/>
<path d="M288.34 411.1L288.34 413.5" stroke="#777" stroke-width="0.6" fill="none"/><path d="M286.64 411.1L290.04 411.1M286.64 413.5L290.04 413.5" stroke="#555" stroke-width="1.0" fill="none"/>
<path d="M285.34 387.7L291.34 393.7M291.34 387.7L285.34 393.7" stroke="#777" stroke-width="0.9" fill="none"/>
<path d="M285.14 339.6L291.54 346M291.54 339.6L285.14 346M288.34 339.6L288.34 346" stroke="#e6e6e6" stroke-width="0.9" fill="none"/>
<path d="M322.18 495.05L325.43 498.3L322.18 501.55L318.93 498.3Z" fill="#5e5e5e"/>
<rect x="319.28" y="444.9" width="5.8" height="5.8" fill="#ababab"/>
<path d="M322.18 406.15L325.33 411.82L319.03 411.82Z" fill="#8a8a8a"/>
<path d="M322.18 406.9L322.18 409.3" stroke="#777" stroke-width="0.6" fill="none"/><path d="M320.48 406.9L323.88 406.9M320.48 409.3L323.88 409.3" stroke="#555" stroke-width="1.0" fill="none"/>
<path d="M319.18 374.9L325.18 380.9M325.18 374.9L319.18 380.9" stroke="#777" stroke-width="0.9" fill="none"/>
<path d="M322.18 375.3L322.18 380.5" stroke="#444" stroke-width="0.7" fill="none"/><path d="M320.38 375.3L323.98 375.3M320.38 380.5L323.98 380.5" stroke="#1a1a1a" stroke-width="1.1" fill="none"/>
<path d="M318.98 333.3L325.38 339.7M325.38 333.3L318.98 339.7M322.18 333.3L322.18 339.7" stroke="#e6e6e6" stroke-width="0.9" fill="none"/>
<path d="M322.18 335.7L322.18 337.3" stroke="#444" stroke-width="0.7" fill="none"/><path d="M320.38 335.7L323.98 335.7M320.38 337.3L323.98 337.3" stroke="#1a1a1a" stroke-width="1.1" fill="none"/>
<path d="M356.02 495.25L359.27 498.5L356.02 501.75L352.77 498.5Z" fill="#5e5e5e"/>
<rect x="353.12" y="445.4" width="5.8" height="5.8" fill="#ababab"/>
<path d="M356.02 409.05L359.17 414.72L352.87 414.72Z" fill="#8a8a8a"/>
<path d="M356.02 409.8L356.02 412.2" stroke="#777" stroke-width="0.6" fill="none"/><path d="M354.32 409.8L357.72 409.8M354.32 412.2L357.72 412.2" stroke="#555" stroke-width="1.0" fill="none"/>
<path d="M353.02 374.5L359.02 380.5M359.02 374.5L353.02 380.5" stroke="#777" stroke-width="0.9" fill="none"/>
<path d="M356.02 374L356.02 381" stroke="#444" stroke-width="0.7" fill="none"/><path d="M354.22 374L357.82 374M354.22 381L357.82 381" stroke="#1a1a1a" stroke-width="1.1" fill="none"/>
<path d="M352.82 339.3L359.22 345.7M359.22 339.3L352.82 345.7M356.02 339.3L356.02 345.7" stroke="#e6e6e6" stroke-width="0.9" fill="none"/>
<path d="M389.86 495.25L393.11 498.5L389.86 501.75L386.61 498.5Z" fill="#5e5e5e"/>
<rect x="386.96" y="434.4" width="5.8" height="5.8" fill="#ababab"/>
<path d="M389.86 397.95L393.01 403.62L386.71 403.62Z" fill="#8a8a8a"/>
<path d="M389.86 398.7L389.86 401.1" stroke="#777" stroke-width="0.6" fill="none"/><path d="M388.16 398.7L391.56 398.7M388.16 401.1L391.56 401.1" stroke="#555" stroke-width="1.0" fill="none"/>
<path d="M386.86 359.7L392.86 365.7M392.86 359.7L386.86 365.7" stroke="#777" stroke-width="0.9" fill="none"/>
<path d="M389.86 361.5L389.86 363.9" stroke="#444" stroke-width="0.7" fill="none"/><path d="M388.06 361.5L391.66 361.5M388.06 363.9L391.66 363.9" stroke="#1a1a1a" stroke-width="1.1" fill="none"/>
<path d="M386.66 324.1L393.06 330.5M393.06 324.1L386.66 330.5M389.86 324.1L389.86 330.5" stroke="#e6e6e6" stroke-width="0.9" fill="none"/>
<path d="M423.7 495.25L426.95 498.5L423.7 501.75L420.45 498.5Z" fill="#5e5e5e"/>
<rect x="420.8" y="434.4" width="5.8" height="5.8" fill="#ababab"/>
<path d="M423.7 392.45L426.85 398.12L420.55 398.12Z" fill="#8a8a8a"/>
<path d="M423.7 393.2L423.7 395.6" stroke="#777" stroke-width="0.6" fill="none"/><path d="M422 393.2L425.4 393.2M422 395.6L425.4 395.6" stroke="#555" stroke-width="1.0" fill="none"/>
<path d="M420.7 356.1L426.7 362.1M426.7 356.1L420.7 362.1" stroke="#777" stroke-width="0.9" fill="none"/>
<path d="M423.7 357.9L423.7 360.3" stroke="#444" stroke-width="0.7" fill="none"/><path d="M421.9 357.9L425.5 357.9M421.9 360.3L425.5 360.3" stroke="#1a1a1a" stroke-width="1.1" fill="none"/>
<path d="M420.5 323.4L426.9 329.8M426.9 323.4L420.5 329.8M423.7 323.4L423.7 329.8" stroke="#e6e6e6" stroke-width="0.9" fill="none"/>
<path d="M457.54 495.05L460.79 498.3L457.54 501.55L454.29 498.3Z" fill="#5e5e5e"/>
<rect x="454.64" y="428.5" width="5.8" height="5.8" fill="#ababab"/>
<path d="M457.54 390.75L460.69 396.42L454.39 396.42Z" fill="#8a8a8a"/>
<path d="M457.54 391.5L457.54 393.9" stroke="#777" stroke-width="0.6" fill="none"/><path d="M455.84 391.5L459.24 391.5M455.84 393.9L459.24 393.9" stroke="#555" stroke-width="1.0" fill="none"/>
<path d="M454.54 355L460.54 361M460.54 355L454.54 361" stroke="#777" stroke-width="0.9" fill="none"/>
<path d="M457.54 356.5L457.54 359.5" stroke="#444" stroke-width="0.7" fill="none"/><path d="M455.74 356.5L459.34 356.5M455.74 359.5L459.34 359.5" stroke="#1a1a1a" stroke-width="1.1" fill="none"/>
<path d="M454.34 314.2L460.74 320.6M460.74 314.2L454.34 320.6M457.54 314.2L457.54 320.6" stroke="#e6e6e6" stroke-width="0.9" fill="none"/>
<path d="M491.38 494.95L494.63 498.2L491.38 501.45L488.13 498.2Z" fill="#5e5e5e"/>
<rect x="488.48" y="437.2" width="5.8" height="5.8" fill="#ababab"/>
<path d="M491.38 403.85L494.53 409.52L488.23 409.52Z" fill="#8a8a8a"/>
<path d="M491.38 404.6L491.38 407" stroke="#777" stroke-width="0.6" fill="none"/><path d="M489.68 404.6L493.08 404.6M489.68 407L493.08 407" stroke="#555" stroke-width="1.0" fill="none"/>
<path d="M488.38 368.5L494.38 374.5M494.38 368.5L488.38 374.5" stroke="#777" stroke-width="0.9" fill="none"/>
<path d="M491.38 370.3L491.38 372.7" stroke="#444" stroke-width="0.7" fill="none"/><path d="M489.58 370.3L493.18 370.3M489.58 372.7L493.18 372.7" stroke="#1a1a1a" stroke-width="1.1" fill="none"/>
<path d="M488.18 333.5L494.58 339.9M494.58 333.5L488.18 339.9M491.38 333.5L491.38 339.9" stroke="#e6e6e6" stroke-width="0.9" fill="none"/>
<path d="M101.8 287L104.8 290L101.8 293L98.8 290Z" fill="#5e5e5e"/>
<text transform="translate(106.2 293.2)" class="lg2">BSA</text>
<rect x="230.5" y="286.8" width="6" height="6" fill="#ababab"/>
<text transform="translate(238.4 293.2)" class="lg2">BSA + GO 50 mM</text>
<path d="M365.8 286.8L369 292.7L362.6 292.7Z" fill="#8a8a8a"/>
<text transform="translate(371.4 293.2)" class="lg2">BSA + GO 100 mM</text>
<path d="M98.1 303.7L104.5 310.1M104.5 303.7L98.1 310.1" stroke="#9a9a9a" stroke-width="0.8" fill="none"/>
<text transform="translate(106.2 310.2)" class="lg2">BSA + MGO 50 mM</text>
<path d="M230.5 303.9L236.5 309.9M236.5 303.9L230.5 309.9M233.5 303.9L233.5 309.9" stroke="#e4e4e4" stroke-width="0.8" fill="none"/>
<text transform="translate(238.4 310.2)" class="lg2">BSA + MGO 100 mM</text>
<text transform="translate(506.3 283.1)" class="pl">B</text>
<text transform="translate(289 534.2) scale(1 1)" text-anchor="middle" class="xt2">time [h]</text>
<text transform="translate(31.6 388.5) rotate(-90) scale(1 1.08)" text-anchor="middle" class="yt">Kynureine content</text>
<text transform="translate(42.8 388.4) rotate(-90) scale(1 1.08)" text-anchor="middle" class="yt">[Mean fluorescence (a. u.)/ Ex365/Em480]</text>
</g>
</svg>
</body></html>
